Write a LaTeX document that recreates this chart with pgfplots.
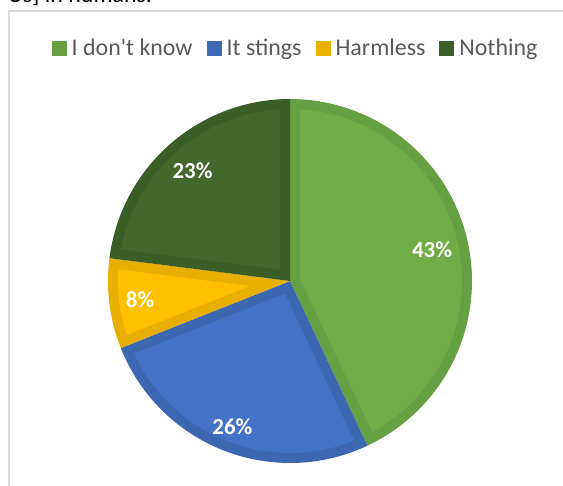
\documentclass[border=0pt]{standalone}
\usepackage{pgfplots}
\pgfplotsset{compat=1.18}
\usepackage{fontspec}
\setmainfont{Carlito}[Ligatures=TeXOff]
\definecolor{cA}{HTML}{70AD47}\definecolor{bA}{HTML}{65A042}
\definecolor{cB}{HTML}{4472C4}\definecolor{bB}{HTML}{3E67B2}
\definecolor{cC}{HTML}{FFC000}\definecolor{bC}{HTML}{E8AF00}
\definecolor{cD}{HTML}{43682B}\definecolor{bD}{HTML}{3B5D26}
\definecolor{legtext}{HTML}{595959}
\definecolor{framec}{HTML}{D9D9D9}
\def\cx{290}\def\cy{205}\def\rad{182}\def\dd{10}
\def\cur{90}
\tikzset{lbl/.style={text=white, font=\bfseries\fontsize{23}{28}\selectfont, anchor=center, inner sep=0pt}}
% #1 value (percent), #2 fill, #3 border, #4 label radius factor
\newcommand\slice[4]{%
  \pgfmathsetmacro\sa{\cur}%
  \pgfmathsetmacro\sb{\cur-3.6*#1}%
  \pgfmathsetmacro\m{(\sa+\sb)/2}%
  \pgfmathsetmacro\h{\dd/sin((\sa-\sb)/2)}%
  \pgfmathsetmacro\px{\cx+\h*cos(\m)}%
  \pgfmathsetmacro\py{\cy+\h*sin(\m)}%
  \pgfmathsetmacro\del{asin(\dd/(\rad-\dd))}%
  \pgfmathsetmacro\ia{\sa-\del}%
  \pgfmathsetmacro\ib{\sb+\del}%
  \pgfmathsetmacro\lx{\cx+#4*\rad*cos(\m)}%
  \pgfmathsetmacro\ly{\cy+#4*\rad*sin(\m)}%
  \edef\doit{%
    \noexpand\addplot[forget plot, fill=#3, draw=none, domain=\sb:\sa, samples=90, variable=\noexpand\t]
      ({\cx+\rad*cos(\noexpand\t)},{\cy+\rad*sin(\noexpand\t)}) -- (axis cs:\cx,\cy) -- cycle;
    \noexpand\addplot[forget plot, fill=#2, draw=none, domain=\ib:\ia, samples=90, variable=\noexpand\t]
      ({\cx+(\rad-\dd)*cos(\noexpand\t)},{\cy+(\rad-\dd)*sin(\noexpand\t)}) -- (axis cs:\px,\py) -- cycle;
    \noexpand\node[lbl] at (axis cs:\lx,\ly) {#1\noexpand\%};
  }\doit
  \global\let\cur\sb
}
\begin{document}
\begin{tikzpicture}
\begin{axis}[
  scale only axis, width=563bp, height=486bp,
  xmin=0, xmax=563, ymin=0, ymax=486,
  hide axis, clip=false,
  legend columns=4,
  legend style={at={(0.5249,0.901)}, anchor=center, draw=none, fill=none,
    font=\fontsize{24}{28}\selectfont, text=legtext,
    /tikz/every odd column/.append style={column sep=3bp},
    /tikz/every even column/.append style={column sep=12bp},
    nodes={inner sep=2bp}},
  legend image code/.code={\fill[#1, draw=none] (0bp,-7.5bp) rectangle (15bp,7.5bp);},
]
\draw[framec, line width=2bp] (axis cs:9,0) -- (axis cs:9,475) -- (axis cs:563,475);
\node[anchor=base west, font=\fontsize{24}{28}\selectfont, text=black] at (axis cs:4,483.5) {Us] in humans.};
\slice{43}{cA}{bA}{0.80}
\slice{26}{cB}{bB}{0.86}
\slice{8}{cC}{bC}{0.83}
\slice{23}{cD}{bD}{0.81}
\addlegendimage{fill=cA!92!black, draw=none}\addlegendentry{I don't know}
\addlegendimage{fill=cB!92!black, draw=none}\addlegendentry{It stings}
\addlegendimage{fill=cC!92!black, draw=none}\addlegendentry{Harmless}
\addlegendimage{fill=cD!92!black, draw=none}\addlegendentry{Nothing}
\end{axis}
\pgfresetboundingbox
\useasboundingbox (0,0) rectangle (563bp,486bp);
\end{tikzpicture}
\end{document}
